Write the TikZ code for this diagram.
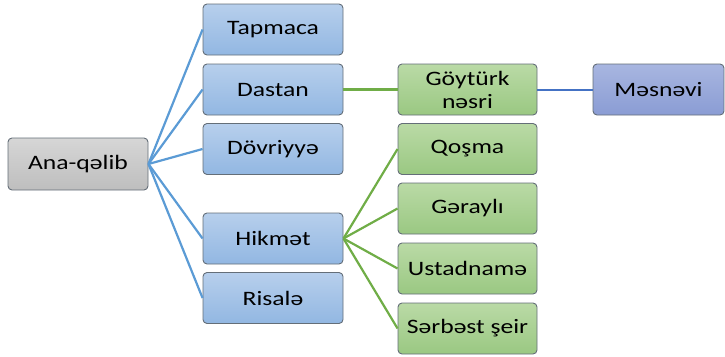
\documentclass[tikz,border=0pt]{standalone}
\usepackage{fontspec}
\setmainfont{Carlito}[FakeStretch=1.25]
\usetikzlibrary{positioning}
\definecolor{lnblue}{RGB}{91,155,213}
\definecolor{lngreen}{RGB}{112,173,71}
\definecolor{lndark}{RGB}{68,114,196}
\definecolor{bxline}{RGB}{100,110,120}

\tikzset{
  box/.style={draw=bxline, line width=0.9pt, rounded corners=4pt, inner sep=0pt,
    font=\fontsize{20.5}{23}\selectfont, text=black, align=center},
  rootbox/.style={box, minimum width=140pt, minimum height=52pt,
    top color={rgb,255:red,214;green,214;blue,214}, bottom color={rgb,255:red,190;green,190;blue,190}},
  bluebox/.style={box, minimum width=140pt, minimum height=51pt,
    top color={rgb,255:red,183;green,207;blue,236}, bottom color={rgb,255:red,146;green,183;blue,226}},
  greenbox/.style={box, minimum width=139pt, minimum height=51pt,
    top color={rgb,255:red,186;green,218;blue,166}, bottom color={rgb,255:red,154;green,200;blue,130}},
  purplebox/.style={box, minimum width=131pt, minimum height=51pt,
    top color={rgb,255:red,168;green,182;blue,224}, bottom color={rgb,255:red,138;green,156;blue,212}},
  bluelink/.style={draw=lnblue, line width=2.2pt},
  greenlink/.style={draw=lngreen, line width=2.2pt},
  darklink/.style={draw=lndark, line width=2pt}
}

\begin{document}
\begin{tikzpicture}[x=1pt, y=-1pt]
\useasboundingbox (0,0) rectangle (725,356);
% -- root --
\node[rootbox] (anaqelib) at (78,164) {Ana-qəlib};
% -- first level --
\node[bluebox] (tapmaca) at (273,29.5) {Tapmaca};
\node[bluebox] (dastan) at (273,89.5) {Dastan};
\node[bluebox] (dovriyye) at (273,149) {Dövriyyə};
\node[bluebox] (hikmet) at (273,238.5) {Hikmət};
\node[bluebox] (risale) at (273,298) {Risalə};
% -- second level --
\node[greenbox] (goyturk) at (467.5,89.5) {Göytürk\\nəsri};
\node[greenbox] (qosma) at (467.5,149) {Qoşma};
\node[greenbox] (gerayli) at (467.5,208.5) {Gəraylı};
\node[greenbox] (ustadname) at (467.5,268.5) {Ustadnamə};
\node[greenbox] (serbest) at (467.5,328.5) {Sərbəst şeir};
% -- third level --
\node[purplebox] (mesnevi) at (658.5,89.5) {Məsnəvi};
% -- links --
\foreach \n in {tapmaca,dastan,dovriyye,hikmet,risale}
  \draw[bluelink] (anaqelib.east) -- (\n.west);
\foreach \n in {qosma,gerayli,ustadname,serbest}
  \draw[greenlink] (hikmet.east) -- (\n.west);
\draw[greenlink] (dastan.east) -- (goyturk.west);
\draw[darklink] (goyturk.east) -- (mesnevi.west);
\end{tikzpicture}
\end{document}
